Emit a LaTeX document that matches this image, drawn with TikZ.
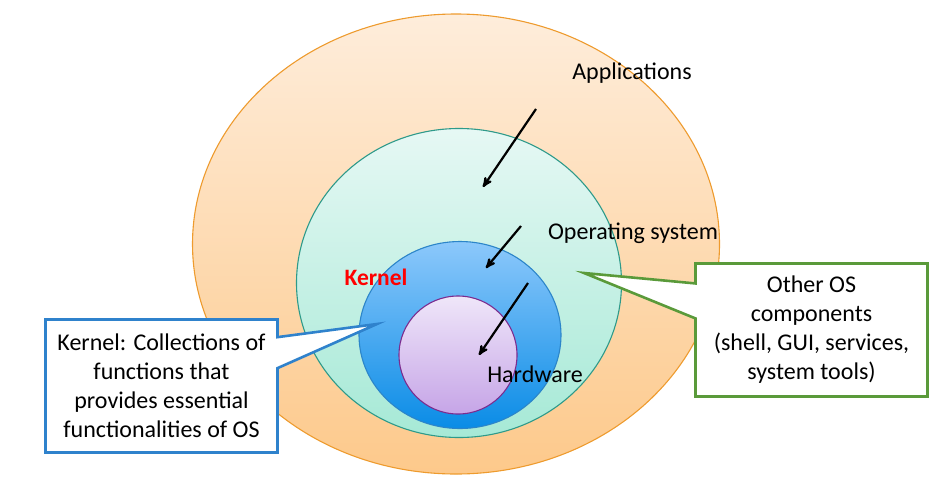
\documentclass[tikz,border=0pt]{standalone}
\usepackage{fontspec}
\setmainfont{Carlito}
\usepackage{tikz}
\usetikzlibrary{arrows, positioning, shapes.geometric, shapes.callouts}

\definecolor{appsline}{HTML}{EE9B2E}
\definecolor{appstop}{HTML}{FEEDDB}
\definecolor{appsbot}{HTML}{FDC98B}
\definecolor{osline}{HTML}{2E9A8A}
\definecolor{ostop}{HTML}{E6F8F4}
\definecolor{osbot}{HTML}{A6E9D6}
\definecolor{kernline}{HTML}{2C85C9}
\definecolor{kerntop}{HTML}{8CC8FB}
\definecolor{kernbot}{HTML}{0A8CE6}
\definecolor{hwline}{HTML}{7B2C8F}
\definecolor{hwtop}{HTML}{EFE6F9}
\definecolor{hwbot}{HTML}{C6A5E7}
\definecolor{bluenote}{HTML}{2F82CC}
\definecolor{greennote}{HTML}{5A9A3A}

\begin{document}
\begin{tikzpicture}[x=1pt, y=-1pt, >=stealth', line width=1.1pt,
                    font=\fontsize{24}{29}\selectfont]

  \tikzstyle{layer} = [ellipse, draw, inner sep=0pt, outer sep=0pt]
  \tikzstyle{ringtext} = [inner sep=0pt]
  \tikzstyle{note} = [rectangle callout, fill=white, line width=2.6pt, align=center,
                      inner sep=0pt, minimum width=232pt, minimum height=133pt]
  \useasboundingbox (0,0) rectangle (941,485);

  \node[layer, appsline, top color=appstop, bottom color=appsbot,
        minimum width=527pt, minimum height=460pt] (apps) at (456,244) {};
  \node[layer, osline, top color=ostop, bottom color=osbot,
        minimum width=325pt, minimum height=309pt] (os) at (459,283) {};
  \node[layer, kernline, top color=kerntop, bottom color=kernbot,
        minimum width=202pt, minimum height=187pt] (kern) at (460,335) {};
  \node[layer, hwline, top color=hwtop, bottom color=hwbot,
        minimum width=118pt, minimum height=118pt] (hw) at (458,355) {};

  \node[ringtext] (appstext) at (632,73)  {Applications};
  \node[ringtext] (ostext)   at (633,233) {Operating system};
  \node[ringtext, red, font=\fontsize{23.5}{28}\selectfont\bfseries] (kerntext) at (376,277) {Kernel};
  \node[ringtext] (hwtext)   at (535,374) {Hardware};

  \coordinate (a1) at (536,109);
  \coordinate (b1) at (483,187);
  \coordinate (a2) at (521,226);
  \coordinate (b2) at (486,268);
  \coordinate (a3) at (528,283);
  \coordinate (b3) at (479,355);

  \path[->, line width=2.2pt]
        (a1) edge (b1)
        (a2) edge (b2)
        (a3) edge (b3);

  \coordinate (kerntip) at (377,324);
  \coordinate (ostip)   at (584,273);

  \node[note, draw=bluenote, callout absolute pointer={(kerntip)},
        callout pointer width=31pt] (kernnote) at (161.5,386)
        {Kernel: Collections of\\functions that\\provides essential\\functionalities of OS};
  \node[note, draw=greennote, callout absolute pointer={(ostip)},
        callout pointer width=35pt] (osnote) at (811.5,330)
        {Other OS\\components\\(shell, GUI, services,\\system tools)};

\end{tikzpicture}
\end{document}
